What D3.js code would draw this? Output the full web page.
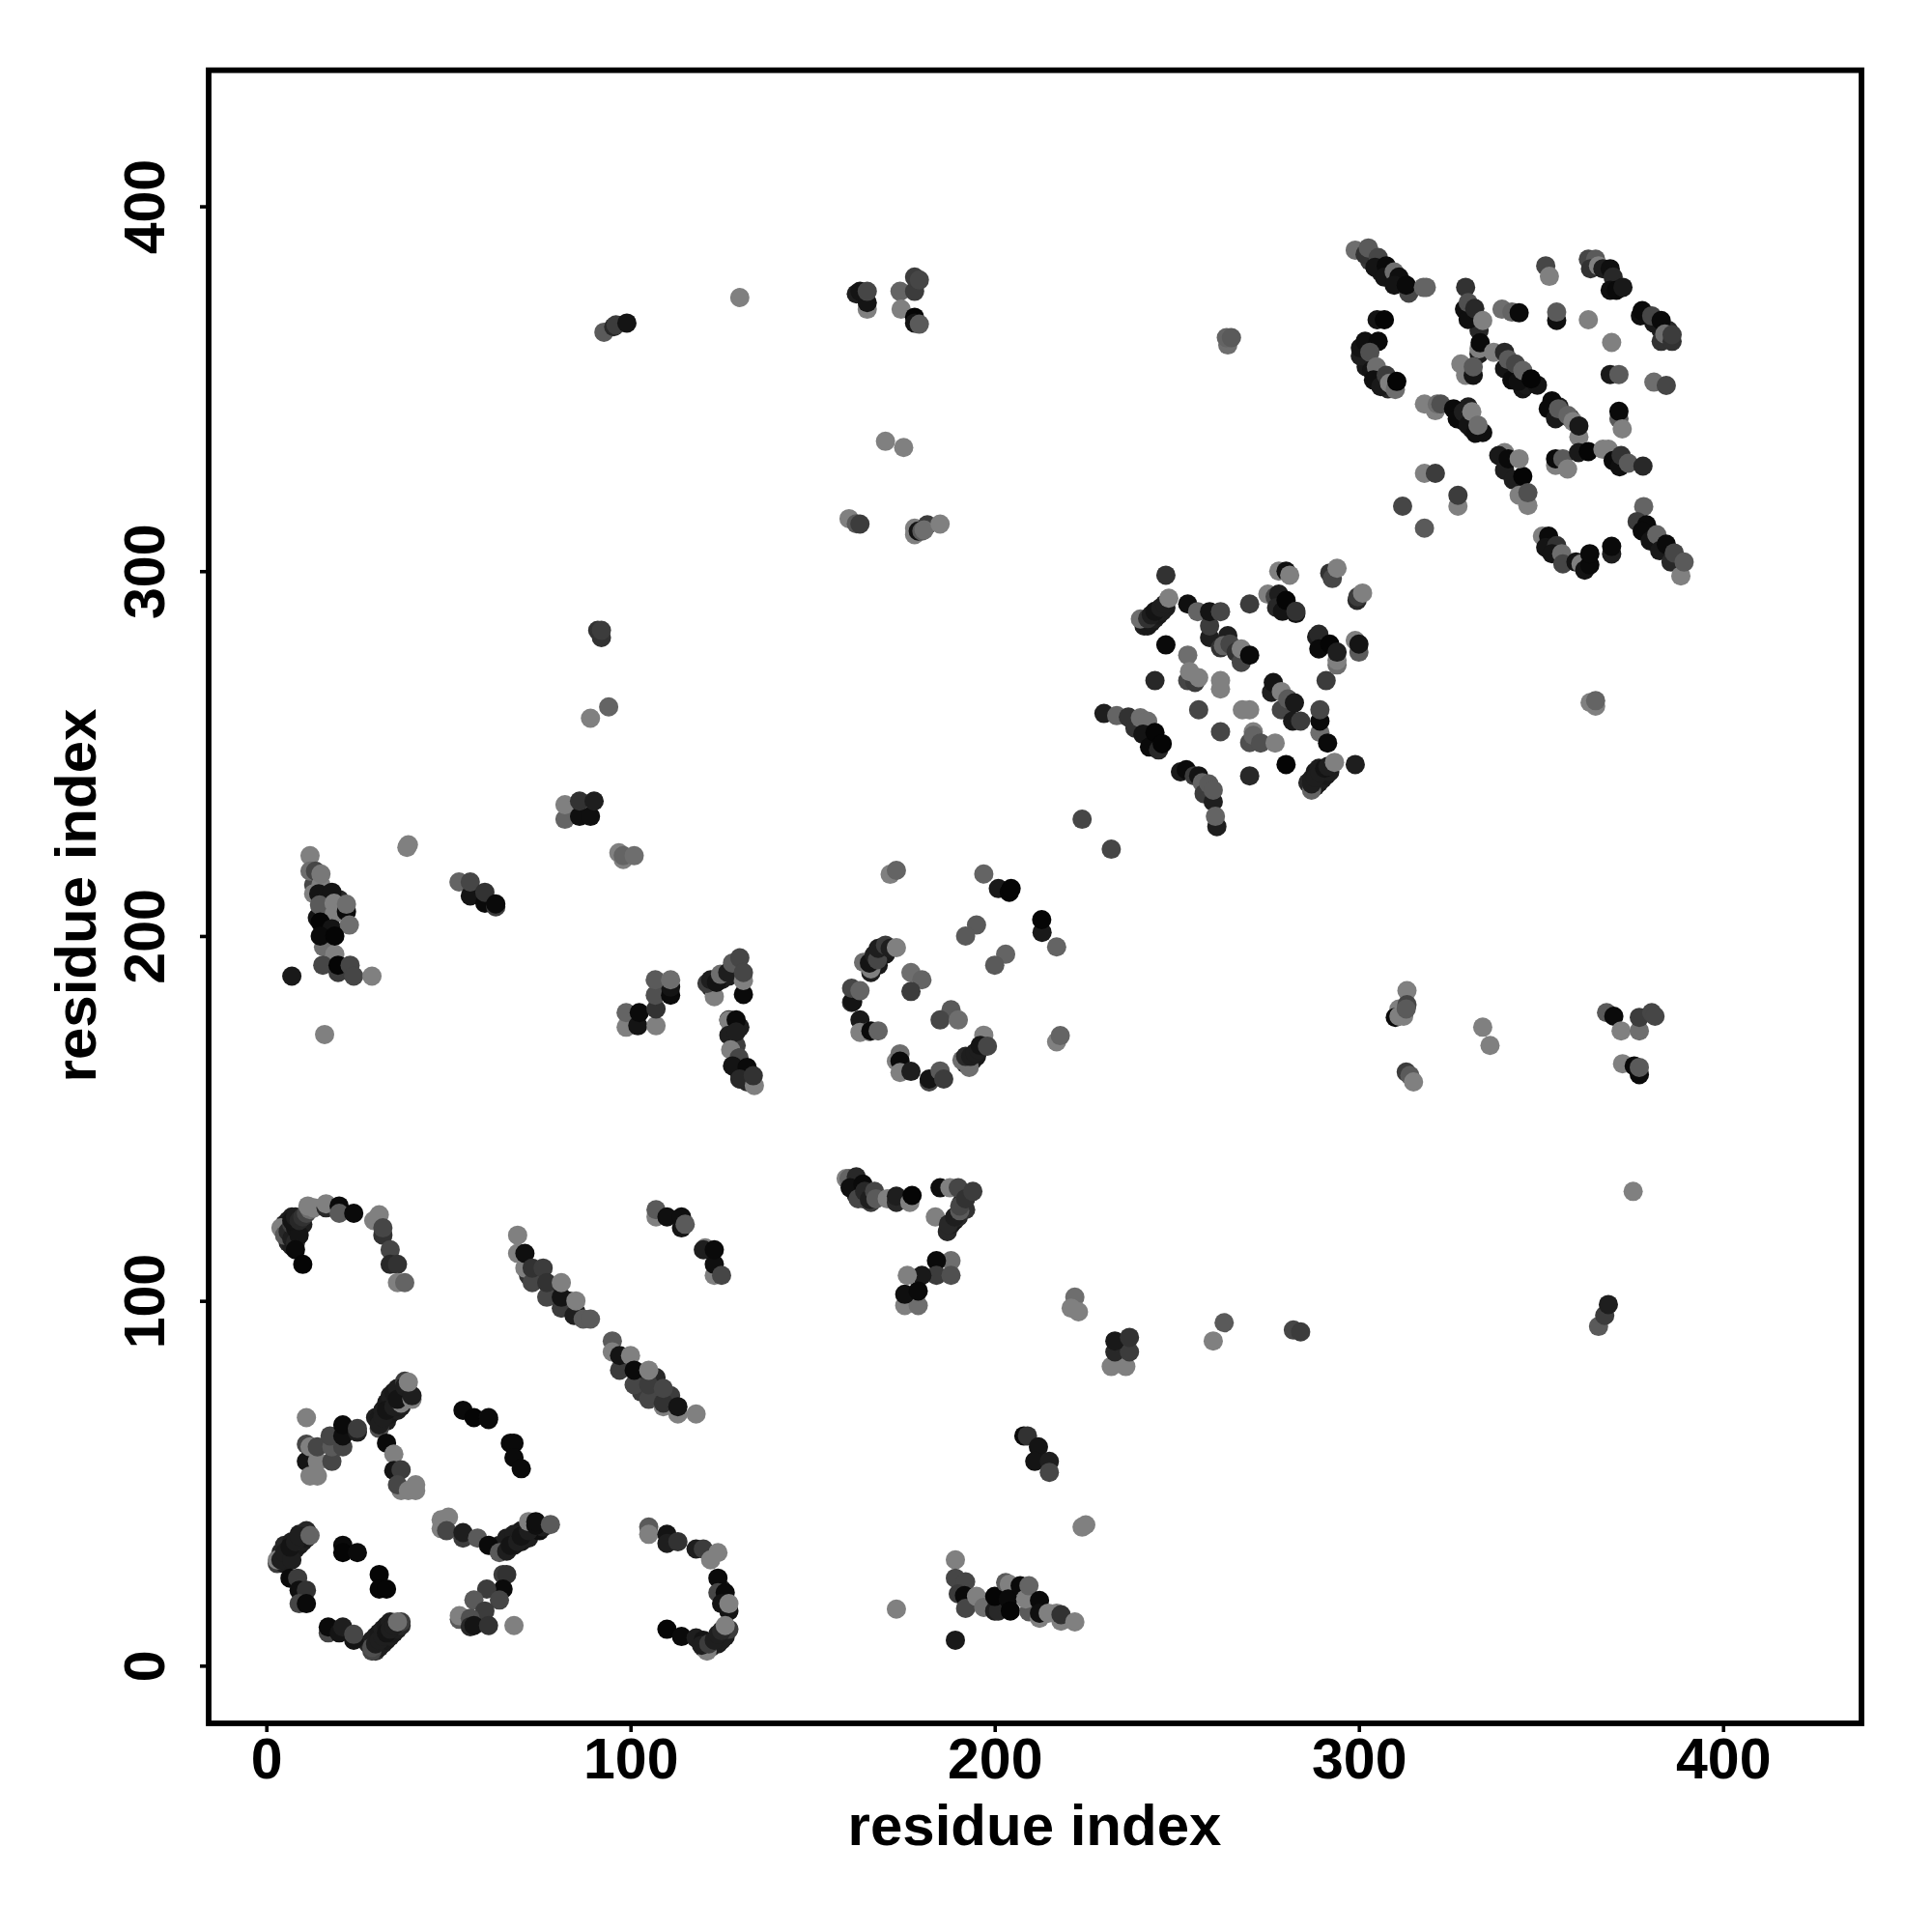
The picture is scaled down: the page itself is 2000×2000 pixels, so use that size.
<!DOCTYPE html>
<html><head><meta charset="utf-8">
<style>html,body{margin:0;padding:0;background:#fff}svg{display:block}</style>
<script src="https://cdnjs.cloudflare.com/ajax/libs/d3/7.8.5/d3.min.js"></script>
</head><body><svg id="c" width="2000" height="2000"></svg>
<script>
// each contact: [residue i, residue j, score]
const denseChains=[[28,6,40],[29,7,30],[30,8,30],[31,9,25],[32,10,30],[33,11,25],[34,12,30],[30,4,50],[31,5,30],[32,6,30],[33,7,25],[34,8,30],[35,9,25],[36,10,30],[37,11,40],[37,12,60],[3,28,60],[5,28,30],[6,30,30],[7,31,25],[8,32,30],[9,33,25],[10,34,30],[11,35,25],[4,31,40],[5,33,40],[7,34,30],[9,36,30],[11,37,40],[64,33,30],[65,32,25],[66,33,30],[68,33,25],[69,36,30],[70,37,25],[71,36,30],[72,38,25],[73,37,25],[66,35,30],[68,36,30],[70,34,25],[72,35,30],[75,37,15],[76,38,30],[30,68,30],[31,68,25],[32,70,30],[33,72,25],[34,74,30],[35,75,25],[36,76,30],[33,67,30],[34,69,25],[36,70,30],[37,71,30],[38,73,25],[39,74,30],[38,78,60],[39,75,30],[241,285,30],[242,285,25],[243,286,25],[244,287,30],[245,288,25],[246,289,30],[247,290,30],[288,241,30],[289,242,25],[290,243,30],[291,244,25],[292,245,30],[286,242,40],[287,243,30],[288,245,25],[289,246,30],[5,121,40],[6,122,30],[7,123,30],[6,116,40],[7,115,30],[9,120,25],[10,121,30],[72,107,50],[74,107,50],[79,103,40],[83,100,30],[83,98,40],[85,97,30],[98,83,30],[99,83,40],[103,79,30],[107,75,50],[103,75,60],[107,79,40],[111,74,60],[303,385,60],[306,382,30],[308,381,25],[310,380,30],[312,379,20],[314,377,40],[302,358,30],[302,356,25],[305,354,30],[306,353,20],[308,350,40],[345,350,20],[346,351,25],[349,351,20],[383,366,30],[385,366,40],[381,368,25],[355,345,30],[356,343,30],[358,342,40],[333,366,40],[332,370,30],[330,345,30],[329,341,20],[331,339,25],[334,338,15],[192,165,40],[194,166,30],[195,167,25],[166,190,30],[168,192,25],[169,195,30],[170,195,25],[122,186,40],[125,188,30],[127,189,30],[129,191,30],[130,162,30],[131,163,30],[132,160,40],[130,175,30],[129,170,60],[127,177,30],[14,205,20],[16,203,10],[17,200,10],[16,200,15],[17,204,15],[13,214,70],[15,211,30],[20,210,40],[20,207,20],[120,5,50],[122,5,40],[124,6,30],[125,7,30],[126,8,30],[127,10,60],[126,18,20],[125,21,40],[187,119,40],[188,121,30],[189,122,25],[190,123,40],[191,127,30],[192,125,50],[162,129,40],[164,128,30],[161,132,30],[166,127,60]];
const arcTopLeft=[[4,120,128],[5,118,90],[6,119,40],[7,117,30],[7,121,60],[8,116,40],[8,120,20],[9,118,20],[7,122,20],[8,123,30],[9,122,40],[10,123,50],[11,124,70],[12,125,110],[13,125.5,128],[8,114,10],[10,110,5],[11.4,126,128],[16.4,125.5,40],[16.4,126.6,128],[20,126,10],[20,124,90],[24,124,10],[29.5,122,128],[31,123.6,128],[32,118,50],[32,120,70],[34,114,70],[34,110,40],[36,110,50],[36,105,128],[38,105,100]];
const strandA=[[69,113,128],[69,118,128],[71,109,128],[71,113,15],[73,105,70],[73,109,50],[76,109,60],[77,101,70],[77,105,50],[81,98,60],[81,101,20],[81,105,128],[84.5,96,30],[85,100,128],[87,95,90],[89,95,90]];
const strandB=[[95,89,90],[95,86,128],[97,81,60],[97,85,20],[100,85,128],[101,77,70],[101,81,10],[105,73,70],[105,77,60],[105,81,128],[109,71,128],[109,72,50],[109,76,70],[113,69,128],[113,71,20],[118,69,128]];
const arcTopRight=[[107,123,128],[107,125,90],[110,123,15],[114,120,20],[114,123,15],[115,121,90],[120.5,114.5,128],[120,114,30],[123,107,128],[123,110,15],[123,114,10],[125,107,70]];
const midLeft=[[11,68,128],[11,60.7,70],[11,56,20],[12,52,128],[14,52,128],[12,60,128],[14,56,128],[14,60,70],[18,56,70],[18,60,90],[17.5,63,70],[21,60,70],[21,63,15],[21,66,10],[25,64,30],[25,65,60]];
const midBranch=[[31,65,80],[31,66,30],[32,68,30],[33,70,20],[35,71,30],[37,72,128],[36,73,20],[40,73,128],[38,76.5,30],[40,74,30],[39,77.7,128],[33,61,10],[35,58,128],[35,53.5,20],[37,53.7,60],[37,48,128],[36,49.6,70],[39,48,128],[41,48,128],[41,49.6,128]];
const midCenter=[[54,70,10],[57,68,5],[61,68,15],[61,67.5,10],[67,61,10],[68,61,10],[68,57,10],[70,54,10]];
const ringBottom=[[3,29,128],[4,29,30],[5,31,30],[7,29,30],[6.5,32.5,20],[8,34,30],[9,35.5,30],[12,35.7,100],[6.5,24,10],[8.6,24,60],[9,20.7,15],[11,20.7,50],[9,17,70],[11,17,10],[21,33,10],[21,31,5],[25,31,10],[31,25,5],[31,21,5],[33,21,5],[17,9,70],[17,10.6,10],[20,9,20],[21,10.6,30],[24,7,20],[24,8.6,70],[29,4,70],[29,5,80],[30,6,30],[31,7,30],[32,8,30],[33,9,20],[34,10,30],[35,11,30],[36,12,110]];
const forkBottom=[[48,37.6,128],[48,40,128],[50,40.7,128],[49.5,37,70],[54,35,60],[54,36.5,30],[58,35,90],[61,33,10],[64,31,90],[66,31.4,30],[67,33,20],[69,34,30],[70,35.5,20],[72,37,30],[72,39.5,128],[74,38.5,15],[74,39.5,15],[78,38.7,90],[65,25,60],[66,25,50],[65,21,10],[60.5,21,60],[64,18,70],[57,18,90],[60,15,60],[53,12.7,90],[53,13.7,128],[56,13,80],[56,10.7,40],[57,11,20],[61,11,50],[68,11,128]];
const bracket=[[105,38,90],[105,36,128],[110,36,20],[110,33.5,30],[113,34,50],[118,32,30],[120,32,60],[122,29,128],[124,31,128],[124,24,10],[124,20,70],[126,20,10],[125,17,20],[127,15,20],[127,17,128],[110,10,5],[114,8,10],[118,7.6,30],[120,7,20],[121,4,128],[119.5,5.6,30],[121.5,6,60],[123,7,30],[124,8.6,30],[125,9.6,40],[126,11,128]];
const leftUpper=[[12,222,140],[12,217.8,110],[13.5,217.8,70],[15,214,128],[15,217,120],[13,211.6,128],[14.4,211.6,20],[18,212,20],[14.6,208.5,90],[18.6,206,128],[18.6,209,128],[22,206.7,10],[22,208.7,110],[14.8,203.8,5],[18,202,20],[22.8,203,110],[15.7,197,110],[18.8,195,140],[14.8,200,10],[18.8,200,5],[15.5,192,70],[19.7,190,60],[19.7,192,5],[23,192,70],[24,189,70],[29,189,128],[7,189,25],[16,173,128],[38.6,224.3,128],[39,225,128],[52.9,214.8,100],[56,211,20],[56,214.8,70],[60,209,10],[60,212,50],[63,208,60],[63,208.8,10],[96.8,222.8,128],[98,221,128],[98,222,100],[101,222,110]];
const midUpper=[[98.8,175,128],[98.8,179,100],[102,175.4,20],[102.4,179,10],[107,175.4,128],[107,180,50],[106.8,183.8,80],[111,183.8,10],[111,186,20],[106.8,188,90],[111,188,110],[123,183.4,128],[121,187,60],[122,188,30],[123.6,187.3,20],[124.7,189.5,110],[126.7,190,30],[128,192.6,90],[130,194,70],[131,184,10],[131,187.8,128],[131,190,70],[127,176.8,128],[129,177,10],[127,172.8,30],[129,173.7,30],[127.5,168.8,128],[129.8,166.6,70],[128,164.4,20],[132,164,10],[130,160.8,40],[134,159,128],[133.7,161.7,50]];
const ringCenter=[[171.3,216.9,128],[173,218,100],[197,217,100],[201,213,25],[204,212,5],[204.5,213,5],[213,201,25],[212.9,204.5,5],[217,197,100],[195,203,90],[192,200,90],[203,195,100],[200,192,90],[217,171,128],[218,172.7,100],[164,192.8,110],[166,191,128],[165.6,192.6,20],[166.9,194.8,30],[167.8,193.5,70],[168,196.6,30],[170,197.5,60],[171.3,196.6,30],[173,196.8,128],[177,190,110],[180,188,100],[177,184.8,60],[160.7,181.8,50],[161,182,20],[160.7,185.7,70],[163,185,100],[163,177,25],[163,173.6,128],[165.6,173.8,128],[166,174,10],[168,174,100],[188,179.8,90],[185,177,70],[190,177,110],[173,165.7,128],[174,167.7,110],[174,165.7,10],[174,162.6,128],[177,162.9,30],[182,160,70],[182,160.8,20],[185,163,90],[186,160.8,60],[191,166,110],[193,164,110],[192,167,40],[193.4,167,30],[194.6,168,30],[195.6,168.8,30],[197,172.8,128],[196,170,20],[198,169.8,70]];
const clusterLow=[[159.2,133.5,128],[160,133.5,100],[162,134,40],[160.3,131,15],[163.8,132,10],[162.5,128,70],[164.3,130,40],[165.6,127.8,30],[167,130,70],[167.4,128,90],[170.5,128,128],[173,127,40],[173,128.7,30],[176.7,127,128],[177.3,128.9,5],[185,131,15],[187.7,131,128],[190,131,70],[183.7,123,128],[187.3,121,40],[189,123,30],[190.4,124.7,90],[190.4,126,70],[192,128,50],[194,130,60],[188,111,110],[184,111,10],[184,107,60],[188,107,80],[180,107,25],[176,107,128],[175.3,98.7,128],[179,98.7,110],[175.3,101.8,15],[179,102.7,10],[222,101,110],[221,98,128],[223,97,128]];
const clusterTail=[[189.2,29,128],[189.2,24,70],[192,23,70],[190,19.7,60],[191.7,19.2,10],[192,15.7,70],[195,19,128],[197,16,110],[200,15,30],[201,15,40],[200,19,5],[203,22.8,90],[204,22.3,128],[203.7,18.3,10],[204.3,15,5],[207,21.9,10],[209.4,14.8,90],[208.5,18.3,128],[209.4,21.9,100],[212.3,13,128],[212.3,17.9,10],[212.3,14.4,15],[214.7,14.4,128],[217,14.4,128],[218.2,12.2,128],[218.2,14,50],[222,12,128],[189.2,7,25],[224,38,128],[225,38.6,128],[173,15.5,128]];
const scatteredLow=[[208,63,10],[209,63,50],[212,60,20],[211,56,20],[215,56,30],[215,53,70],[232,82,128],[236,82,128],[233,86,40],[237,86,60],[233,89,25],[237,90,50],[260,89,128],[263,94,90],[282,92,70],[284,91.5,60],[365.8,93,90],[367.5,96,60],[368.5,99,30],[375.3,130,128]];
const scatteredMid=[[313.2,185,128],[311,180,128],[310,177.7,10],[311,178,128],[312.3,178,128],[313.2,181.2,70],[313,180,90],[313,162.7,60],[314,161.8,90],[315,160,128],[334,175,128],[336,170,128],[368,179,90],[370,178,10],[372,174,128],[377,174,110],[377,177.7,60],[380.4,179,70],[381.3,178,70],[372.4,165,128],[375.6,164.4,10],[377,162,10],[377,164,90],[363.5,264,128],[365,263,128],[365,264.5,100]];
const scatteredHigh=[[162,376,30],[163,376.7,20],[165,371.8,128],[165,373.6,20],[165,376.7,70],[174,376.7,100],[178,376.7,60],[178,380.6,60],[179.3,379.8,70],[174.3,371.8,128],[178,369.6,5],[178,368,20],[179.3,367.7,90],[170,335.6,128],[175,333.9,128],[160,314.4,128],[162,313,90],[163,312.9,60],[178,310,128],[178,311.8,128],[179,311,20],[180,311,90],[181.5,312.7,60],[180.6,311.3,110],[185,312.9,128],[92,281.8,50],[91,283.8,50],[92,283.8,60],[94,262.8,100],[89,259.7,128],[82,232,100],[82,236,128],[86,232.8,15],[89,232.8,15],[86,237,50],[90,237,30],[92.7,365.5,90],[95.4,367,40],[96,367.5,60],[99,368,20],[130,375,128],[264,362,110],[263.6,364,100],[265,364,90]];
const blockMiddle=[[247,298.9,50],[253,291,15],[255.7,288.9,100],[259,281.8,30],[259,285,60],[259,288.9,20],[262,288.9,70],[270,291,60],[240,286.9,110],[242,287,50],[243,288,30],[244,289,20],[245.6,290,30],[246.7,291,30],[247.8,292.6,128],[262,279,50],[264,282.3,30],[262.8,279.6,100],[264.6,280,70],[266.3,277.8,50],[267.7,275,70],[267.7,278.7,128],[270,277,10],[278,300,128],[280,300,15],[281,298.9,128],[292,299.5,50],[292.7,298,70],[294,300.8,128],[299.5,292,40],[299.7,293,60],[301,294,128],[275,293.7,128],[277,293,70],[278,293.7,30],[277.4,290,40],[279,289,20],[280,292,5],[282.7,288.4,20],[282.7,289,50],[288.4,282,30],[289,282.7,40],[289,278.7,10],[292,280,5],[294,274.3,110],[294,275.6,128],[294,277.8,30],[300,277.8,90],[299,281,128],[300,280,20],[247,279.8,10],[253,277,110],[253,270,70],[255,269.5,60],[253.5,272.5,128],[256,270.8,128],[244,270,40],[262,267.7,128],[262,270,128],[291,270,60],[256,262,70],[268,262,128],[270,262,128],[262,256,70],[270,253,80],[271,256,128],[271,255,100],[273,252.9,80],[277,252.9,128],[276,266.8,30],[276.5,269.5,20],[278.7,267,128],[278.7,262,70],[280.5,265,90],[282.3,263.9,25],[281.8,258.9,25],[284,258.9,60],[289.3,255.8,110],[289.3,258.9,10],[289.3,262,70],[291.4,252.9,10],[230,261,30],[233.5,260.4,100],[236.7,260,50],[238.5,257,50],[240,259.8,110],[242,258.9,110],[240.7,255.3,20],[242.5,251.8,10],[245,251,40],[244,255.8,5],[246,252.7,5],[280,247,5],[299,247,30],[270,243.9,40],[287,240,100],[287,241.7,30],[288,243.4,30],[289.3,244.8,30],[290.6,246,20],[291.5,246.5,30],[293.3,247.6,128],[251,245,25],[252.6,245.6,10],[254.8,243.9,60],[256,243.9,20],[257,242,100],[257.5,239,60],[258.8,241.7,90],[260,236.8,30],[260,240,90],[261,230,30],[260.6,232.8,100],[224,232,70],[232,223.8,70]];
const blockTop=[[299,388,110],[301.7,386.8,50],[302.6,388.6,90],[305.3,386,70],[304.4,383.3,20],[307.5,383.7,10],[307,380.6,20],[309.7,382,110],[311,380.6,15],[309.7,378.4,20],[313.7,376.2,70],[313,378.4,10],[317.7,377.8,100],[318.5,377.8,100],[305,368.9,20],[307,368.9,5],[300.4,359,30],[300.4,361.2,20],[301.7,363,15],[305.3,363,10],[303,360,80],[303.5,355,20],[304.8,356,110],[304,352.4,15],[306,350.6,25],[307.5,353.7,60],[308.4,351.5,128],[310,349.8,110],[310.4,352,5],[329.3,377.8,50],[329,371.8,15],[330,369,15],[330,373.6,80],[331.8,372,40],[334,368.7,128],[333,359.5,30],[333,361,128],[333.3,362.6,10],[337,360,128],[339.3,371.8,110],[342,371,100],[344,370.8,10],[328,356.8,128],[329.3,353.7,128],[331.4,353.7,20],[331.4,356,90],[340,360,40],[340,355.5,20],[341,358,90],[342,352.4,10],[343,356.8,70],[343.7,352,15],[345,355,100],[347.3,352.7,5],[351.3,383.7,70],[352.3,380.8,128],[354.3,368.7,15],[354.3,371,90],[363,385.5,70],[365,385.5,90],[363.6,382.9,50],[365.8,383.7,128],[367,382.9,30],[369,382.9,15],[369.8,380.6,40],[369,377,15],[370.7,377,10],[372.5,377.8,25],[363,368.9,128],[377.3,370,15],[377.8,371.4,10],[380.4,370,70],[383,368.7,10],[383,363,50],[384,365,110],[386,363,50],[386,364.8,60],[369.4,362.7,128],[369,353.9,25],[371.4,353.9,90],[381,351.8,110],[384.4,350.9,70],[353,346.7,10],[352,344.5,10],[354,341.8,25],[354.8,344.5,90],[357.4,342.7,100],[358.8,341,128],[360.4,336.8,128],[360.4,339.8,25],[318,345.8,128],[321,344,128],[321.5,345.8,110],[322.5,345.8,80],[326,344.5,10],[327,341.8,10],[328.7,343.6,30],[330,340,20],[332,337.8,15],[331,343.7,128],[332.7,340,110],[340,332.5,128],[338.4,331.7,25],[340,327.7,30],[341,330.8,10],[342.4,325,30],[345,326,5],[344,330.8,128],[344,320.8,128],[346.4,318,128],[346.4,321.5,80],[371.4,341.8,90],[371.4,343.8,10],[372.3,339,128],[354,329,128],[354,330.8,10],[356,330.8,90],[357.3,328,128],[360.3,332.5,25],[363,332.8,5],[367,333.4,128],[368.5,333.4,128],[369.8,330.3,10],[371.6,328.6,15],[372,331.7,50],[374,329.6,90],[378,328.8,40],[318,326.8,128],[321,326.8,60],[327.2,317.8,128],[327.2,320.8,60],[312,317.8,70],[318,311.8,90],[378.2,317.7,100],[376.4,313.6,60],[379,312.7,10],[377.8,311,10],[380,308.3,20],[381.8,310,100],[382.6,305.6,25],[384.4,307.4,10],[385.7,302.5,40],[386.6,305,70],[388.4,298.7,128],[389.3,302.5,90],[350.4,309.6,128],[352.1,309.6,10],[351.3,306.5,20],[354.3,307,50],[353,304.8,20],[355.7,304.8,110],[356,302,70],[359.6,302.5,20],[361,302,128],[362,300.3,20],[363.4,301.7,10],[363.4,304.8,10],[369.4,304.7,30],[369.4,306.8,10]];

const tickValues=[0,100,200,300,400];
const axisTitle="residue index";
const blocks=[denseChains,arcTopLeft,strandA,strandB,arcTopRight,midLeft,midBranch,midCenter,ringBottom,forkBottom,bracket,leftUpper,midUpper,ringCenter,clusterLow,clusterTail,scatteredLow,scatteredMid,scatteredHigh,blockMiddle,blockTop];

const L=216,R=1927,T=72.7,B=1784;
const x=d3.scaleLinear().domain([-15.84,438]).range([L,R]);
const y=d3.scaleLinear().domain([-15.8,437.3]).range([B,T]);
const shade=d3.scaleLinear().domain([0,128]).range(["#000000","#808080"]).clamp(true);
const font='"Liberation Sans",Arial,sans-serif';
const svg=d3.select("#c");
svg.append("rect").attr("width",2000).attr("height",2000).attr("fill","#fff");

svg.append("g").selectAll("circle").data(blocks.flat()).join("circle")
  .attr("cx",d=>x(d[0])).attr("cy",d=>y(d[1])).attr("r",10).attr("fill",d=>shade(d[2]));

svg.append("rect").attr("x",L).attr("y",T).attr("width",R-L).attr("height",B-T)
  .attr("fill","none").attr("stroke","#000").attr("stroke-width",5.8);

const ax=svg.append("g").attr("transform",`translate(0,${B})`)
  .call(d3.axisBottom(x).tickValues(tickValues).tickSize(9).tickPadding(0).tickFormat(d3.format("d")));
const ay=svg.append("g").attr("transform",`translate(${L},0)`)
  .call(d3.axisLeft(y).tickValues(tickValues).tickSize(9).tickPadding(0).tickFormat(d3.format("d")));
[ax,ay].forEach(a=>{a.select(".domain").remove();a.selectAll(".tick line").attr("stroke","#000").attr("stroke-width",3.6);});
ax.selectAll(".tick text").attr("y",57).attr("dy",0).attr("text-anchor","middle")
  .style("font",`bold 59px ${font}`).attr("fill","#000");
ay.selectAll(".tick text").attr("x",0).attr("dy",0).attr("text-anchor","middle")
  .attr("transform","translate(-46,0) rotate(-90)").attr("y",0)
  .style("font",`bold 59px ${font}`).attr("fill","#000");
svg.append("text").attr("x",1071).attr("y",1910).attr("text-anchor","middle")
  .style("font",`bold 60px ${font}`).text(axisTitle);
svg.append("text").attr("transform","translate(99,927) rotate(-90)").attr("text-anchor","middle")
  .style("font",`bold 60px ${font}`).text(axisTitle);
</script></body></html>
